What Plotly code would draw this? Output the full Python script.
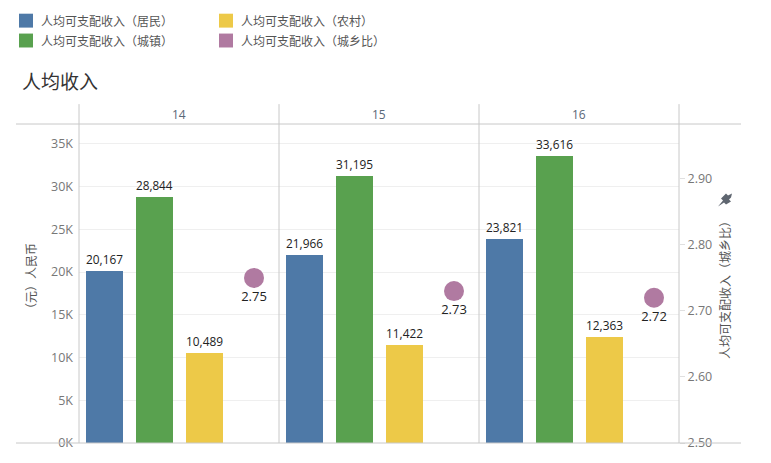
import plotly.graph_objects as go

years = ["14", "15", "16"]
resident = [20167, 21966, 23821]
urban = [28844, 31195, 33616]
rural = [10489, 11422, 12363]
ratio = [2.75, 2.73, 2.72]

names = ["人均可支配收入（居民）", "人均可支配收入（城镇）", "人均可支配收入（农村）", "人均可支配收入（城乡比）"]
colors = ["#4e79a7", "#59a14f", "#edc948", "#b07aa1"]
left_ticks = [0, 5000, 10000, 15000, 20000, 25000, 30000, 35000]
left_tick_text = ["0K", "5K", "10K", "15K", "20K", "25K", "30K", "35K"]
right_ticks = [2.5, 2.6, 2.7, 2.8, 2.9]

W, H = 771, 463
L, R, T, B = 79, 679, 124, 445
pw, ph = R - L, B - T

def px2x(px):
    return (px - L) / pw

def px2y(py):
    return (B - py) / ph

CJK = "Noto Sans CJK SC"
NUM = "Open Sans, Noto Sans, sans-serif"

fig = go.Figure()
slots = 4
for j, vals in enumerate([resident, urban, rural]):
    fig.add_trace(go.Bar(
        x=[slots * i + j + 0.5 for i in range(len(years))],
        y=vals, width=0.74, marker=dict(color=colors[j], line=dict(width=0)),
        texttemplate="%{y:,}", textposition="outside", cliponaxis=False,
        textfont=dict(color="#222", size=13, family=NUM), name=names[j], showlegend=False,
    ))
fig.add_trace(go.Scatter(
    x=[slots * i + 3 + 0.5 for i in range(len(years))], y=ratio, yaxis="y2",
    mode="markers+text", marker=dict(color=colors[3], size=20),
    text=[f"{v:.2f}" for v in ratio], textposition="bottom center",
    textfont=dict(color="#222", size=13, family=NUM), name=names[3], showlegend=False, cliponaxis=False,
))

shapes = []
annotations = []
grey_line = "#c8c8c8"
shapes.append(dict(type="line", xref="paper", yref="paper", x0=px2x(16), x1=px2x(741), y0=1, y1=1,
                   line=dict(color=grey_line, width=1)))
shapes.append(dict(type="line", xref="paper", yref="paper", x0=px2x(16), x1=px2x(741), y0=0, y1=0,
                   line=dict(color=grey_line, width=1)))
for k in range(len(years) + 1):
    shapes.append(dict(type="line", xref="paper", yref="paper", x0=k / len(years), x1=k / len(years),
                       y0=0, y1=px2y(104), line=dict(color=grey_line, width=1)))
for k, yr in enumerate(years):
    annotations.append(dict(xref="paper", yref="paper", x=(k + 0.5) / len(years), y=px2y(114),
                            xanchor="center", yanchor="middle",
                            text=yr, showarrow=False, font=dict(size=12, color="#5a6878", family=NUM)))

# legend
leg_pos = [(19, 20), (19, 40), (219, 20), (219, 40)]
for (lx, ly), nm, c in zip(leg_pos, names, colors):
    shapes.append(dict(type="rect", xref="paper", yref="paper", x0=px2x(lx), x1=px2x(lx + 14),
                       y0=px2y(ly - 7), y1=px2y(ly + 7), fillcolor=c, line=dict(width=0)))
    annotations.append(dict(xref="paper", yref="paper", x=px2x(lx + 20), y=px2y(ly), xanchor="left",
                            yanchor="middle", text=nm, showarrow=False,
                            font=dict(size=12, color="#555", family=CJK)))

# title
annotations.append(dict(xref="paper", yref="paper", x=px2x(20), y=px2y(80), xanchor="left", yanchor="middle",
                        text="人均收入", showarrow=False, font=dict(size=19, color="#333", family=CJK)))
# axis titles
annotations.append(dict(xref="paper", yref="paper", x=px2x(30), y=px2y(280), textangle=-90,
                        xanchor="center", yanchor="middle",
                        text="（元）人民币", showarrow=False, font=dict(size=12, color="#555", family=CJK)))
annotations.append(dict(xref="paper", yref="paper", x=px2x(725), y=px2y(288), textangle=-90,
                        xanchor="center", yanchor="middle",
                        text="人均可支配收入（城乡比）", showarrow=False, font=dict(size=12, color="#555", family=CJK)))
# pin icon
shapes.append(dict(type="path", xref="paper", yref="paper", xsizemode="pixel", ysizemode="pixel",
                   xanchor=px2x(725), yanchor=px2y(200),
                   path="M -7,-7 L -2,-1 L -4,1 L 1,6 L 3,4 L 7,6 L 6,2 L 4,0 L 6,-2 L 1,-5 L -1,-3 Z",
                   fillcolor="#5f6670", line=dict(width=0)))

fig.update_layout(
    width=W, height=H, margin=dict(l=L, r=W - R, t=T, b=H - B),
    plot_bgcolor="white", paper_bgcolor="white", bargap=0, showlegend=False,
    xaxis=dict(range=[0, slots * len(years)], showgrid=False, showticklabels=False, zeroline=False,
               showline=False, fixedrange=True),
    yaxis=dict(range=[0, 37330], tickvals=left_ticks, ticktext=left_tick_text, showgrid=True,
               gridcolor="#efefef", zeroline=False, showline=False, ticks="", ticklabelstandoff=5,
               tickfont=dict(size=12.5, color="#777", family=NUM)),
    yaxis2=dict(range=[2.5, 2.983], overlaying="y", side="right", tickvals=right_ticks, tickformat=".2f",
                showgrid=False, zeroline=False, showline=False, ticks="outside", ticklen=5, tickcolor="#e0e0e0",
                tickfont=dict(size=12.5, color="#777", family=NUM)),
    shapes=shapes, annotations=annotations,
)
fig.write_html("out.html", config={"displayModeBar": False},
               post_script="document.body.style.margin='0';document.body.style.overflow='hidden';")
